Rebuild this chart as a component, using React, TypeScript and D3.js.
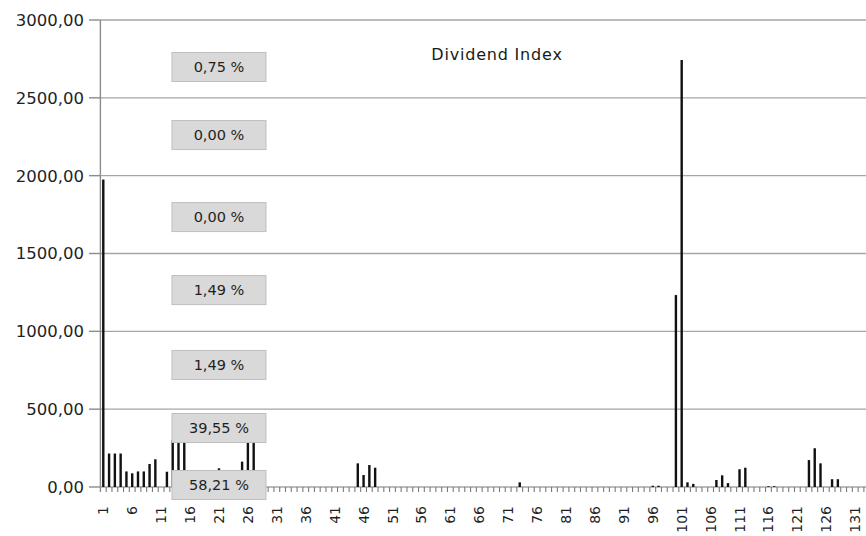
import React from "react";
import * as d3 from "d3";

const categoryCount = 132;
const categories: number[] = d3.range(1, categoryCount + 1);

// non-zero dividend values by category number (others are 0)
const valueCats: number[] = [1, 2, 3, 4, 5, 6, 7, 8, 9, 10, 12, 13, 14, 15, 21, 25, 26, 27, 45, 46, 47, 48, 73, 96, 97, 100, 101, 102, 103, 107, 108, 109, 111, 112, 116, 117, 123, 124, 125, 127, 128];
const valueAmounts: number[] = [1975, 215, 215, 215, 100, 88, 100, 100, 148, 178, 98, 300, 300, 300, 120, 163, 300, 300, 152, 77, 141, 124, 30, 8, 8, 1233, 2743, 30, 20, 45, 75, 25, 114, 124, 5, 5, 173, 249, 152, 50, 50];

const yTicks: number[] = [0, 500, 1000, 1500, 2000, 2500, 3000];
const boxLabels: string[] = ["0,75 %", "0,00 %", "0,00 %", "1,49 %", "1,49 %", "39,55 %", "58,21 %"];
const boxLevels: number[] = [2698, 2261, 1734, 1265, 784, 379, 13];
const boxCategory = 21;
const title = "Dividend Index";

const W = 866;
const H = 536;
const left = 100.4;
const right = left + categoryCount * 5.784;
const top = 20;
const bottom = 487;

export default function App() {
  const valueMap = new Map<number, number>();
  valueCats.forEach((c, i) => valueMap.set(c, valueAmounts[i]));
  const data = categories.map((c) => ({ c, v: valueMap.get(c) ?? 0 }));

  const x = d3.scaleBand<number>().domain(categories).range([left, right]).paddingInner(0).paddingOuter(0);
  const y = d3.scaleLinear().domain([0, 3000]).range([bottom, top]);
  const bw = x.bandwidth();
  const cx = (c: number) => (x(c) ?? 0) + bw / 2;
  const fmt = (v: number) => d3.format(".2f")(v).replace(".", ",");

  const barW = 2.4;
  const boxW = 94;
  const boxH = 29;

  return (
    <svg width={W} height={H} style={{ position: "absolute", left: 0, top: 0, background: "#fff" }}
      fontFamily="'DejaVu Sans', Verdana, sans-serif">
      <rect x={0} y={0} width={W} height={H} fill="#fff" />
      {/* gridlines */}
      {yTicks.map((t) => (
        <g key={t}>
          <line x1={left} x2={W} y1={y(t)} y2={y(t)} stroke="#a6a6a6" strokeWidth={1.4} />
          <line x1={89} x2={left} y1={y(t)} y2={y(t)} stroke="#8c8c8c" strokeWidth={1.4} />
          <text x={84} y={y(t)} dy="0.36em" textAnchor="end" fontSize={16.5} fill="#1f1f1f">{fmt(t)}</text>
        </g>
      ))}
      {/* y axis line */}
      <line x1={left} x2={left} y1={top} y2={bottom + 5} stroke="#8c8c8c" strokeWidth={1.4} />
      {/* x axis ticks */}
      {categories.map((c) => (
        <line key={"t" + c} x1={(x(c) ?? 0) + bw} x2={(x(c) ?? 0) + bw} y1={bottom} y2={bottom + 5} stroke="#7a7a7a" strokeWidth={1.1} />
      ))}
      {/* bars */}
      {data.map((d) => (
        <rect key={"b" + d.c} x={cx(d.c) - barW / 2} y={y(d.v)} width={barW} height={bottom - y(d.v)} fill="#111" />
      ))}
      {/* x labels */}
      {categories.filter((c) => (c - 1) % 5 === 0).map((c) => (
        <text key={"l" + c} transform={`translate(${cx(c)},506) rotate(-90)`} textAnchor="end" dy="0.36em" fontSize={14} fill="#1f1f1f">{c}</text>
      ))}
      {/* title */}
      <text x={497} y={60} textAnchor="middle" fontSize={16} letterSpacing={0.8} fill="#1a1a1a">{title}</text>
      {/* percentage boxes */}
      {boxLabels.map((lab, i) => (
        <g key={"p" + i}>
          <rect x={cx(boxCategory) - boxW / 2} y={y(boxLevels[i]) - boxH / 2} width={boxW} height={boxH} fill="#d9d9d9" stroke="#bfbfbf" strokeWidth={1} />
          <text x={cx(boxCategory)} y={y(boxLevels[i])} dy="0.36em" textAnchor="middle" fontSize={14.5} fill="#1f1f1f">{lab}</text>
        </g>
      ))}
    </svg>
  );
}
